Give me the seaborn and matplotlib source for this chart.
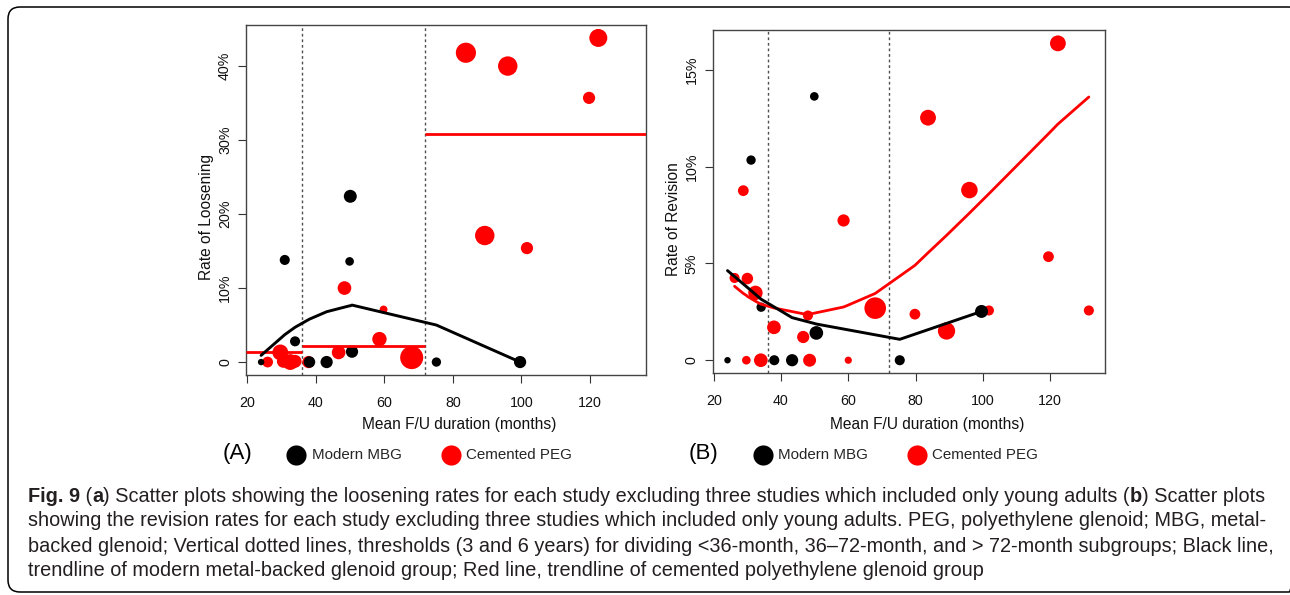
import matplotlib
matplotlib.use('Agg')
import matplotlib.pyplot as plt
import seaborn as sns
from matplotlib.lines import Line2D
from matplotlib.patches import FancyBboxPatch

# ---- (A) rate of loosening ----
loosen_mbg_months = [24.1, 31.0, 34.0, 38.2, 43.2, 49.9, 50.1, 50.6, 75.2, 99.6]
loosen_mbg_rate = [0.0, 13.8, 2.8, 0.0, 0.0, 13.6, 22.4, 1.4, 0.0, 0.0]
loosen_mbg_n = [20, 49, 49, 64, 72, 36, 81, 72, 42, 72]

loosen_peg_months = [83.8, 96.0, 122.4, 119.7, 89.3, 101.6, 48.4, 59.8, 58.6, 46.7,
                     68.0, 26.0, 29.7, 30.6, 32.6, 34.0, 37.9]
loosen_peg_rate = [41.8, 40.0, 43.8, 35.7, 17.1, 15.4, 10.0, 7.1, 3.1, 1.3,
                   0.6, 0.0, 1.3, 0.1, 0.0, 0.1, 0.0]
loosen_peg_n = [196, 182, 156, 72, 182, 72, 90, 30, 100, 90,
                256, 56, 121, 81, 121, 81, 72]

# trendline of MBG group
loosen_mbg_trend_x = [24.1, 31.0, 34.0, 38.2, 43.2, 49.9, 50.1, 50.6, 75.2, 99.6]
loosen_mbg_trend_y = [0.9, 3.7, 4.7, 5.8, 6.8, 7.6, 7.6, 7.7, 5.0, 0.0]

# PEG subgroup means (<36, 36-72, >72 months)
subgroup_edges = [19.7, 36, 72, 136.3]
loosen_peg_means = [1.3, 2.2, 30.8]

# ---- (B) rate of revision ----
revision_mbg_months = [49.9, 31.1, 34.1, 50.5, 99.6, 24.1, 38.0, 43.3, 75.3]
revision_mbg_rate = [13.63, 10.34, 2.74, 1.41, 2.52, 0.0, 0.0, 0.0, 0.0]
revision_mbg_n = [36, 42, 42, 90, 81, 20, 49, 72, 49]

revision_peg_months = [122.3, 83.7, 96.0, 28.8, 58.6, 119.5, 26.2, 30.0, 32.4, 131.5,
                       68.0, 101.8, 79.8, 48.0, 89.2, 37.9, 46.6, 29.7, 34.0, 48.5, 60.0]
revision_peg_rate = [16.37, 12.53, 8.79, 8.76, 7.22, 5.35, 4.25, 4.22, 3.48, 2.57,
                     2.69, 2.57, 2.38, 2.31, 1.51, 1.70, 1.20, 0.0, 0.0, 0.0, 0.0]
revision_peg_n = [121, 121, 132, 56, 72, 56, 49, 64, 100, 49,
                  225, 49, 56, 49, 144, 90, 72, 36, 90, 81, 25]

revision_mbg_trend_x = [24.1, 31.1, 34.1, 38.0, 43.3, 49.9, 50.5, 75.3, 99.6]
revision_mbg_trend_y = [4.63, 3.6, 3.15, 2.75, 2.2, 1.9, 1.87, 1.08, 2.52]

revision_peg_trend_x = [26.2, 28.8, 29.7, 30.0, 32.4, 34.0, 37.9, 46.6, 48.0, 48.5, 58.6,
                        60.0, 68.0, 79.8, 83.7, 89.2, 96.0, 101.8, 119.5, 122.3, 131.5]
revision_peg_trend_y = [3.82, 3.45, 3.35, 3.3, 3.05, 2.9, 2.7, 2.4, 2.38, 2.38, 2.75,
                        2.85, 3.45, 4.9, 5.55, 6.45, 7.6, 8.6, 11.7, 12.2, 13.6]

x_ticks = [20, 40, 60, 80, 100, 120]
thresholds = [36, 72]
loosen_ticks = [0, 10, 20, 30, 40]
loosen_labels = ['0', '10%', '20%', '30%', '40%']
revision_ticks = [0, 5, 10, 15]
revision_labels = ['0', '5%', '10%', '15%']

caption_lines = [
    [("Fig. 9", True), (" (", False), ("a", True),
     (") Scatter plots showing the loosening rates for each study excluding three studies "
      "which included only young adults (", False), ("b", True), (") Scatter plots", False)],
    [("showing the revision rates for each study excluding three studies which included only "
      "young adults. PEG, polyethylene glenoid; MBG, metal-", False)],
    [("backed glenoid; Vertical dotted lines, thresholds (3 and 6 years) for dividing <36-month, "
      "36\u201372-month, and > 72-month subgroups; Black line,", False)],
    [("trendline of modern metal-backed glenoid group; Red line, trendline of cemented "
      "polyethylene glenoid group", False)],
]

sns.set_theme(style='white')
plt.rcParams['font.family'] = ['Liberation Sans', 'DejaVu Sans']

W, H = 1290, 595
fig = plt.figure(figsize=(W / 100, H / 100), dpi=100)

# pixel-space overlay for the frame, labels, legend and caption
bg = fig.add_axes([0, 0, 1, 1], zorder=-5)
bg.set_xlim(0, W)
bg.set_ylim(H, 0)
bg.axis('off')
bg.add_patch(FancyBboxPatch((8, 7), 1301 - 8, 592 - 7,
                            boxstyle='round,pad=0,rounding_size=12',
                            fill=False, edgecolor='black', linewidth=1.1))


def px_axes(x0, y0, x1, y1):
    return fig.add_axes([x0 / W, 1 - y1 / H, (x1 - x0) / W, (y1 - y0) / H])


SMAX = 275
NORM = (0, 256)


def draw_panel(ax, mbg_x, mbg_y, mbg_n, peg_x, peg_y, peg_n, ylim, ticks, labels):
    sns.scatterplot(x=peg_x, y=peg_y, size=peg_n, sizes=(0, SMAX), size_norm=NORM,
                    color='#ff0000', linewidth=0, legend=False, ax=ax, zorder=3)
    sns.scatterplot(x=mbg_x, y=mbg_y, size=mbg_n, sizes=(0, SMAX), size_norm=NORM,
                    color='black', linewidth=0, legend=False, ax=ax, zorder=4)
    for t in thresholds:
        ax.axvline(t, color='#505050', linestyle=(0, (2, 2)), linewidth=1.0, zorder=2)
    ax.set_xlim(19.7, 136.3)
    ax.set_ylim(*ylim)
    ax.set_xticks(x_ticks)
    ax.set_xticklabels([str(v) for v in x_ticks])
    ax.set_yticks(ticks)
    ax.set_yticklabels(labels, rotation=90, va='center')
    ax.tick_params(axis='both', direction='out', length=6, width=0.8, color='#333333',
                   labelsize=10.3, labelcolor='#111111')
    ax.tick_params(axis='x', pad=9)
    ax.tick_params(axis='y', pad=4)
    ax.tick_params(bottom=True, left=True)
    for s in ax.spines.values():
        s.set_color('#444444')
        s.set_linewidth(1.0)
    ax.set_xlabel('')
    ax.set_ylabel('')
    ax.grid(False)


# panel A
axA = px_axes(246, 25, 646, 375)
draw_panel(axA, loosen_mbg_months, loosen_mbg_rate, loosen_mbg_n,
           loosen_peg_months, loosen_peg_rate, loosen_peg_n,
           (-1.75, 45.55), loosen_ticks, loosen_labels)
for i, m in enumerate(loosen_peg_means):
    axA.hlines(m, subgroup_edges[i], subgroup_edges[i + 1], color='#ff0000',
               linewidth=2.0, zorder=5)
sns.lineplot(x=loosen_mbg_trend_x, y=loosen_mbg_trend_y, sort=False, estimator=None,
             color='black', linewidth=2.1, ax=axA, zorder=6)

# panel B
axB = px_axes(712.7, 30, 1105, 373)
draw_panel(axB, revision_mbg_months, revision_mbg_rate, revision_mbg_n,
           revision_peg_months, revision_peg_rate, revision_peg_n,
           (-0.66, 17.06), revision_ticks, revision_labels)
sns.lineplot(x=revision_peg_trend_x, y=revision_peg_trend_y, sort=False, estimator=None,
             color='#ff0000', linewidth=2.0, ax=axB, zorder=5)
sns.lineplot(x=revision_mbg_trend_x, y=revision_mbg_trend_y, sort=False, estimator=None,
             color='black', linewidth=2.1, ax=axB, zorder=6)

# axis titles
lab_kw = dict(fontsize=11.2, color='#111111', ha='center', va='center')
bg.text(459, 425, 'Mean F/U duration (months)', **lab_kw)
bg.text(927, 425, 'Mean F/U duration (months)', **lab_kw)
bg.text(206.5, 217, 'Rate of Loosening', rotation=90, **lab_kw)
bg.text(673, 219, 'Rate of Revision', rotation=90, **lab_kw)

# legends under the panels
for tag, tx, kx, rx in [('(A)', 237.5, 296, 451), ('(B)', 703, 763, 917)]:
    bg.text(tx, 454, tag, fontsize=16, ha='center', va='center', color='black')
    bg.add_line(Line2D([kx], [455], marker='o', markersize=14.5, color='black',
                       markeredgewidth=0, linestyle='none'))
    bg.add_line(Line2D([rx], [455], marker='o', markersize=14.5, color='#ff0000',
                       markeredgewidth=0, linestyle='none'))
    bg.text(kx + 15.5, 455, 'Modern MBG', fontsize=10.9, ha='left', va='center')
    bg.text(rx + 15.5, 455, 'Cemented PEG', fontsize=10.9, ha='left', va='center')

# caption, fitted to the width of the reference first line
renderer = fig.canvas.get_renderer()


def run_width(runs, size):
    w = 0
    for txt, bold in runs:
        t = bg.text(0, 0, txt, fontsize=size, fontweight='bold' if bold else 'normal')
        w += t.get_window_extent(renderer).width
        t.remove()
    return w


cap_size = 12.0 * 1234 / run_width(caption_lines[0], 12.0)
line_y = [496, 521, 546, 571]
for runs, y in zip(caption_lines, line_y):
    x = 28
    for txt, bold in runs:
        t = bg.text(x, y, txt, fontsize=cap_size, color='#231f20', ha='left', va='center',
                    fontweight='bold' if bold else 'normal')
        x += t.get_window_extent(renderer).width

fig.savefig('out.png', dpi=100)
